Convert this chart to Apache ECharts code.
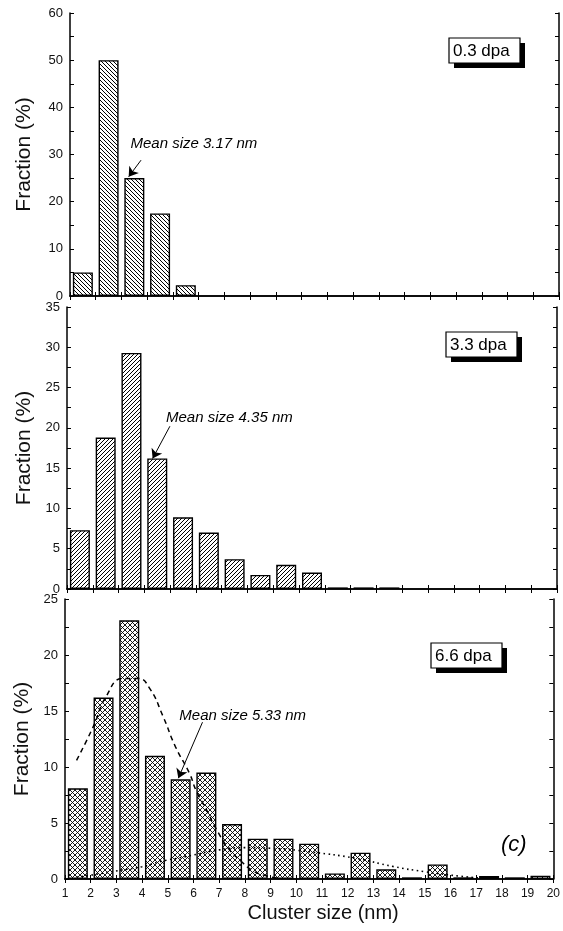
<!DOCTYPE html>
<html>
<head>
<meta charset="utf-8">
<script src="https://cdn.jsdelivr.net/npm/echarts@6/dist/echarts.min.js"></script>
<style>
  html, body { margin: 0; padding: 0; background: #fff; }
  #chart { width: 563px; height: 931px; }
</style>
</head>
<body>
<div id="chart"></div>
<script>
// bin centres (nm), bins are 1-2, 2-3, ...
const binCenters = [1.5, 2.5, 3.5, 4.5, 5.5, 6.5, 7.5, 8.5, 9.5, 10.5,
  11.5, 12.5, 13.5, 14.5, 15.5, 16.5, 17.5, 18.5, 19.5];

const frac03 = [5, 50, 25, 17.5, 2.3];
const frac33 = [7.3, 18.8, 29.3, 16.2, 8.9, 7.0, 3.7, 1.75, 3.0, 2.05, 0.2, 0.2, 0.2];
const frac66 = [8.1, 16.2, 23.1, 11.0, 8.9, 9.5, 4.9, 3.6, 3.6, 3.15, 0.5, 2.35, 0.87,
  0.15, 1.3, 0.15, 0.27, 0.15, 0.3];

// fitted curves, 6.6 dpa panel
const dashedCurve = [[1.45, 10.6], [2.1, 13.6], [2.6, 16.3], [3.25, 17.9], [3.85, 17.9],
  [4.3, 17.0], [4.8, 14.6], [5.3, 11.8], [5.85, 9.4], [6.1, 7.9], [6.5, 6.2], [6.9, 4.4],
  [7.4, 2.6], [7.8, 1.7], [8.3, 0.75], [8.8, 0.3], [9.3, 0.08]];
const dottedCurve = [[1.45, 0.15], [2.3, 0.45], [3.2, 0.8], [4.0, 1.1], [4.7, 1.55],
  [5.7, 2.0], [7.0, 2.6], [8.0, 2.8], [9.0, 2.75], [10.6, 2.4], [12.3, 1.85], [13.8, 1.1],
  [15.0, 0.65], [16.3, 0.27], [17.1, 0.1]];

const xTicks = { min: 1, max: 20, interval: 1 };
const yRanges = [
  { max: 60, interval: 10 },
  { max: 35, interval: 5 },
  { max: 25, interval: 5 }
];
const panelLabels = ['0.3 dpa', '3.3 dpa', '6.6 dpa'];
const meanLabels = ['Mean size 3.17 nm', 'Mean size 4.35 nm', 'Mean size 5.33 nm'];
// [text pos, arrow start, arrow end] in data coords
const meanArrows = [
  [[3.35, 32.2], [3.76, 28.8], [3.28, 25.3]],
  [[4.84, 21.2], [4.99, 20.2], [4.32, 16.2]],
  [[5.45, 14.55], [6.35, 14.0], [5.41, 9.0]]
];

const FONT = '"Liberation Sans", Arial, Helvetica, sans-serif';

function hatch(size, dirs, lw) {
  const c = document.createElement('canvas');
  c.width = size; c.height = size;
  const g = c.getContext('2d');
  g.fillStyle = '#fff';
  g.fillRect(0, 0, size, size);
  g.strokeStyle = '#000';
  g.lineWidth = lw;
  g.beginPath();
  dirs.forEach((d) => {
    for (let off = -size; off <= size; off += size) {
      if (d === 'back') {
        g.moveTo(off, 0); g.lineTo(off + size, size);
      } else {
        g.moveTo(off, size); g.lineTo(off + size, 0);
      }
    }
  });
  g.stroke();
  return { image: c, repeat: 'repeat' };
}

const fills = [
  hatch(4, ['back'], 1),
  hatch(4, ['fwd'], 1),
  hatch(5, ['back', 'fwd'], 0.9)
];

const grids = [
  { left: 70, right: 4, top: 13, height: 283 },
  { left: 67, right: 6, top: 307, height: 282 },
  { left: 65, right: 7, top: 599, height: 280 }
];
const nameGaps = [35, 32, 31];
// label boxes: [x, y] of top-left corner
const boxPos = [[449, 38], [446, 332], [431, 643]];

const axisLine = { show: true, lineStyle: { color: '#000', width: 1.5 } };
const tick = { show: true, inside: true, length: 4, lineStyle: { color: '#000', width: 1 } };

let xAxes = [], yAxes = [], series = [], graphics = [];

grids.forEach((g, i) => {
  const last = i === grids.length - 1;
  xAxes.push({
    type: 'value', gridIndex: i, position: 'bottom', ...xTicks,
    axisLine, axisTick: tick, splitLine: { show: false },
    axisLabel: {
      show: last, margin: 9, fontSize: 12, color: '#111', fontFamily: FONT,
      showMinLabel: true, showMaxLabel: true
    },
    name: last ? 'Cluster size (nm)' : '',
    nameLocation: 'middle', nameGap: 24,
    nameTextStyle: { fontSize: 20, color: '#111', fontFamily: FONT, padding: [0, 0, 0, 28] }
  });
  xAxes.push({
    type: 'value', gridIndex: i, position: 'top', ...xTicks,
    axisLine, axisTick: tick, axisLabel: { show: false }, splitLine: { show: false }
  });
  yAxes.push({
    type: 'value', gridIndex: i, position: 'left', min: 0, ...yRanges[i],
    axisLine, axisTick: tick, splitLine: { show: false },
    minorTick: { show: true, splitNumber: 2, length: 4, lineStyle: { color: '#000', width: 1 } },
    axisLabel: { margin: 7, fontSize: 13, color: '#111', fontFamily: FONT, showMinLabel: true, showMaxLabel: true },
    name: 'Fraction (%)', nameLocation: 'middle', nameRotate: 90, nameGap: nameGaps[i],
    nameTextStyle: { fontSize: 21, color: '#111', fontFamily: FONT }
  });
  yAxes.push({
    type: 'value', gridIndex: i, position: 'right', min: 0, ...yRanges[i],
    axisLine, axisTick: tick, axisLabel: { show: false }, splitLine: { show: false },
    minorTick: { show: true, splitNumber: 2, length: 4, lineStyle: { color: '#000', width: 1 } }
  });

  const [bx, by] = boxPos[i];
  graphics.push({
    type: 'group',
    children: [
      { type: 'rect', shape: { x: bx + 5, y: by + 5, width: 71, height: 25 }, style: { fill: '#000' } },
      { type: 'rect', shape: { x: bx, y: by, width: 71, height: 25 },
        style: { fill: '#fff', stroke: '#000', lineWidth: 1.2 } },
      { type: 'text', x: bx + 4, y: by + 13,
        style: { text: panelLabels[i], fill: '#000', font: '17px ' + FONT, verticalAlign: 'middle' } }
    ]
  });
});

const barValues = [frac03, frac33, frac66];
barValues.forEach((vals, i) => {
  const a = meanArrows[i];
  series.push({
    type: 'bar',
    xAxisIndex: i * 2,
    yAxisIndex: i * 2,
    barWidth: 20,
    data: vals.map((v, k) => [binCenters[k], v]),
    itemStyle: { color: fills[i], borderColor: '#000', borderWidth: 1.4 },
    silent: true,
    animation: false,
    markLine: {
      silent: true,
      animation: false,
      symbol: ['none', 'arrow'],
      symbolSize: 9,
      label: { show: false },
      lineStyle: { color: '#000', width: 1, type: 'solid' },
      itemStyle: { color: '#000' },
      data: [[{ coord: a[1] }, { coord: a[2] }]]
    },
    markPoint: {
      silent: true,
      symbol: 'circle',
      symbolSize: 0,
      label: {
        show: true, position: 'right', distance: 0,
        formatter: meanLabels[i],
        fontSize: 15, fontStyle: 'italic', color: '#000', fontFamily: FONT
      },
      data: [{ coord: a[0] }]
    }
  });
});

series.push({
  type: 'line', xAxisIndex: 4, yAxisIndex: 4, smooth: true, symbol: 'none',
  data: dashedCurve, z: 5, animation: false,
  lineStyle: { color: '#000', width: 1.5, type: [5, 4] }
});
series.push({
  type: 'line', xAxisIndex: 4, yAxisIndex: 4, smooth: true, symbol: 'none',
  data: dottedCurve, z: 5, animation: false,
  lineStyle: { color: '#000', width: 1.6, type: [1.6, 3.4] }
});

graphics.push({
  type: 'text', x: 501, y: 845,
  style: { text: '(c)', fill: '#000', font: 'italic 22px ' + FONT, verticalAlign: 'middle' }
});

const chart = echarts.init(document.getElementById('chart'));
chart.setOption({
  animation: false,
  backgroundColor: '#fff',
  grid: grids,
  xAxis: xAxes,
  yAxis: yAxes,
  series: series,
  graphic: graphics
});
</script>
</body>
</html>
